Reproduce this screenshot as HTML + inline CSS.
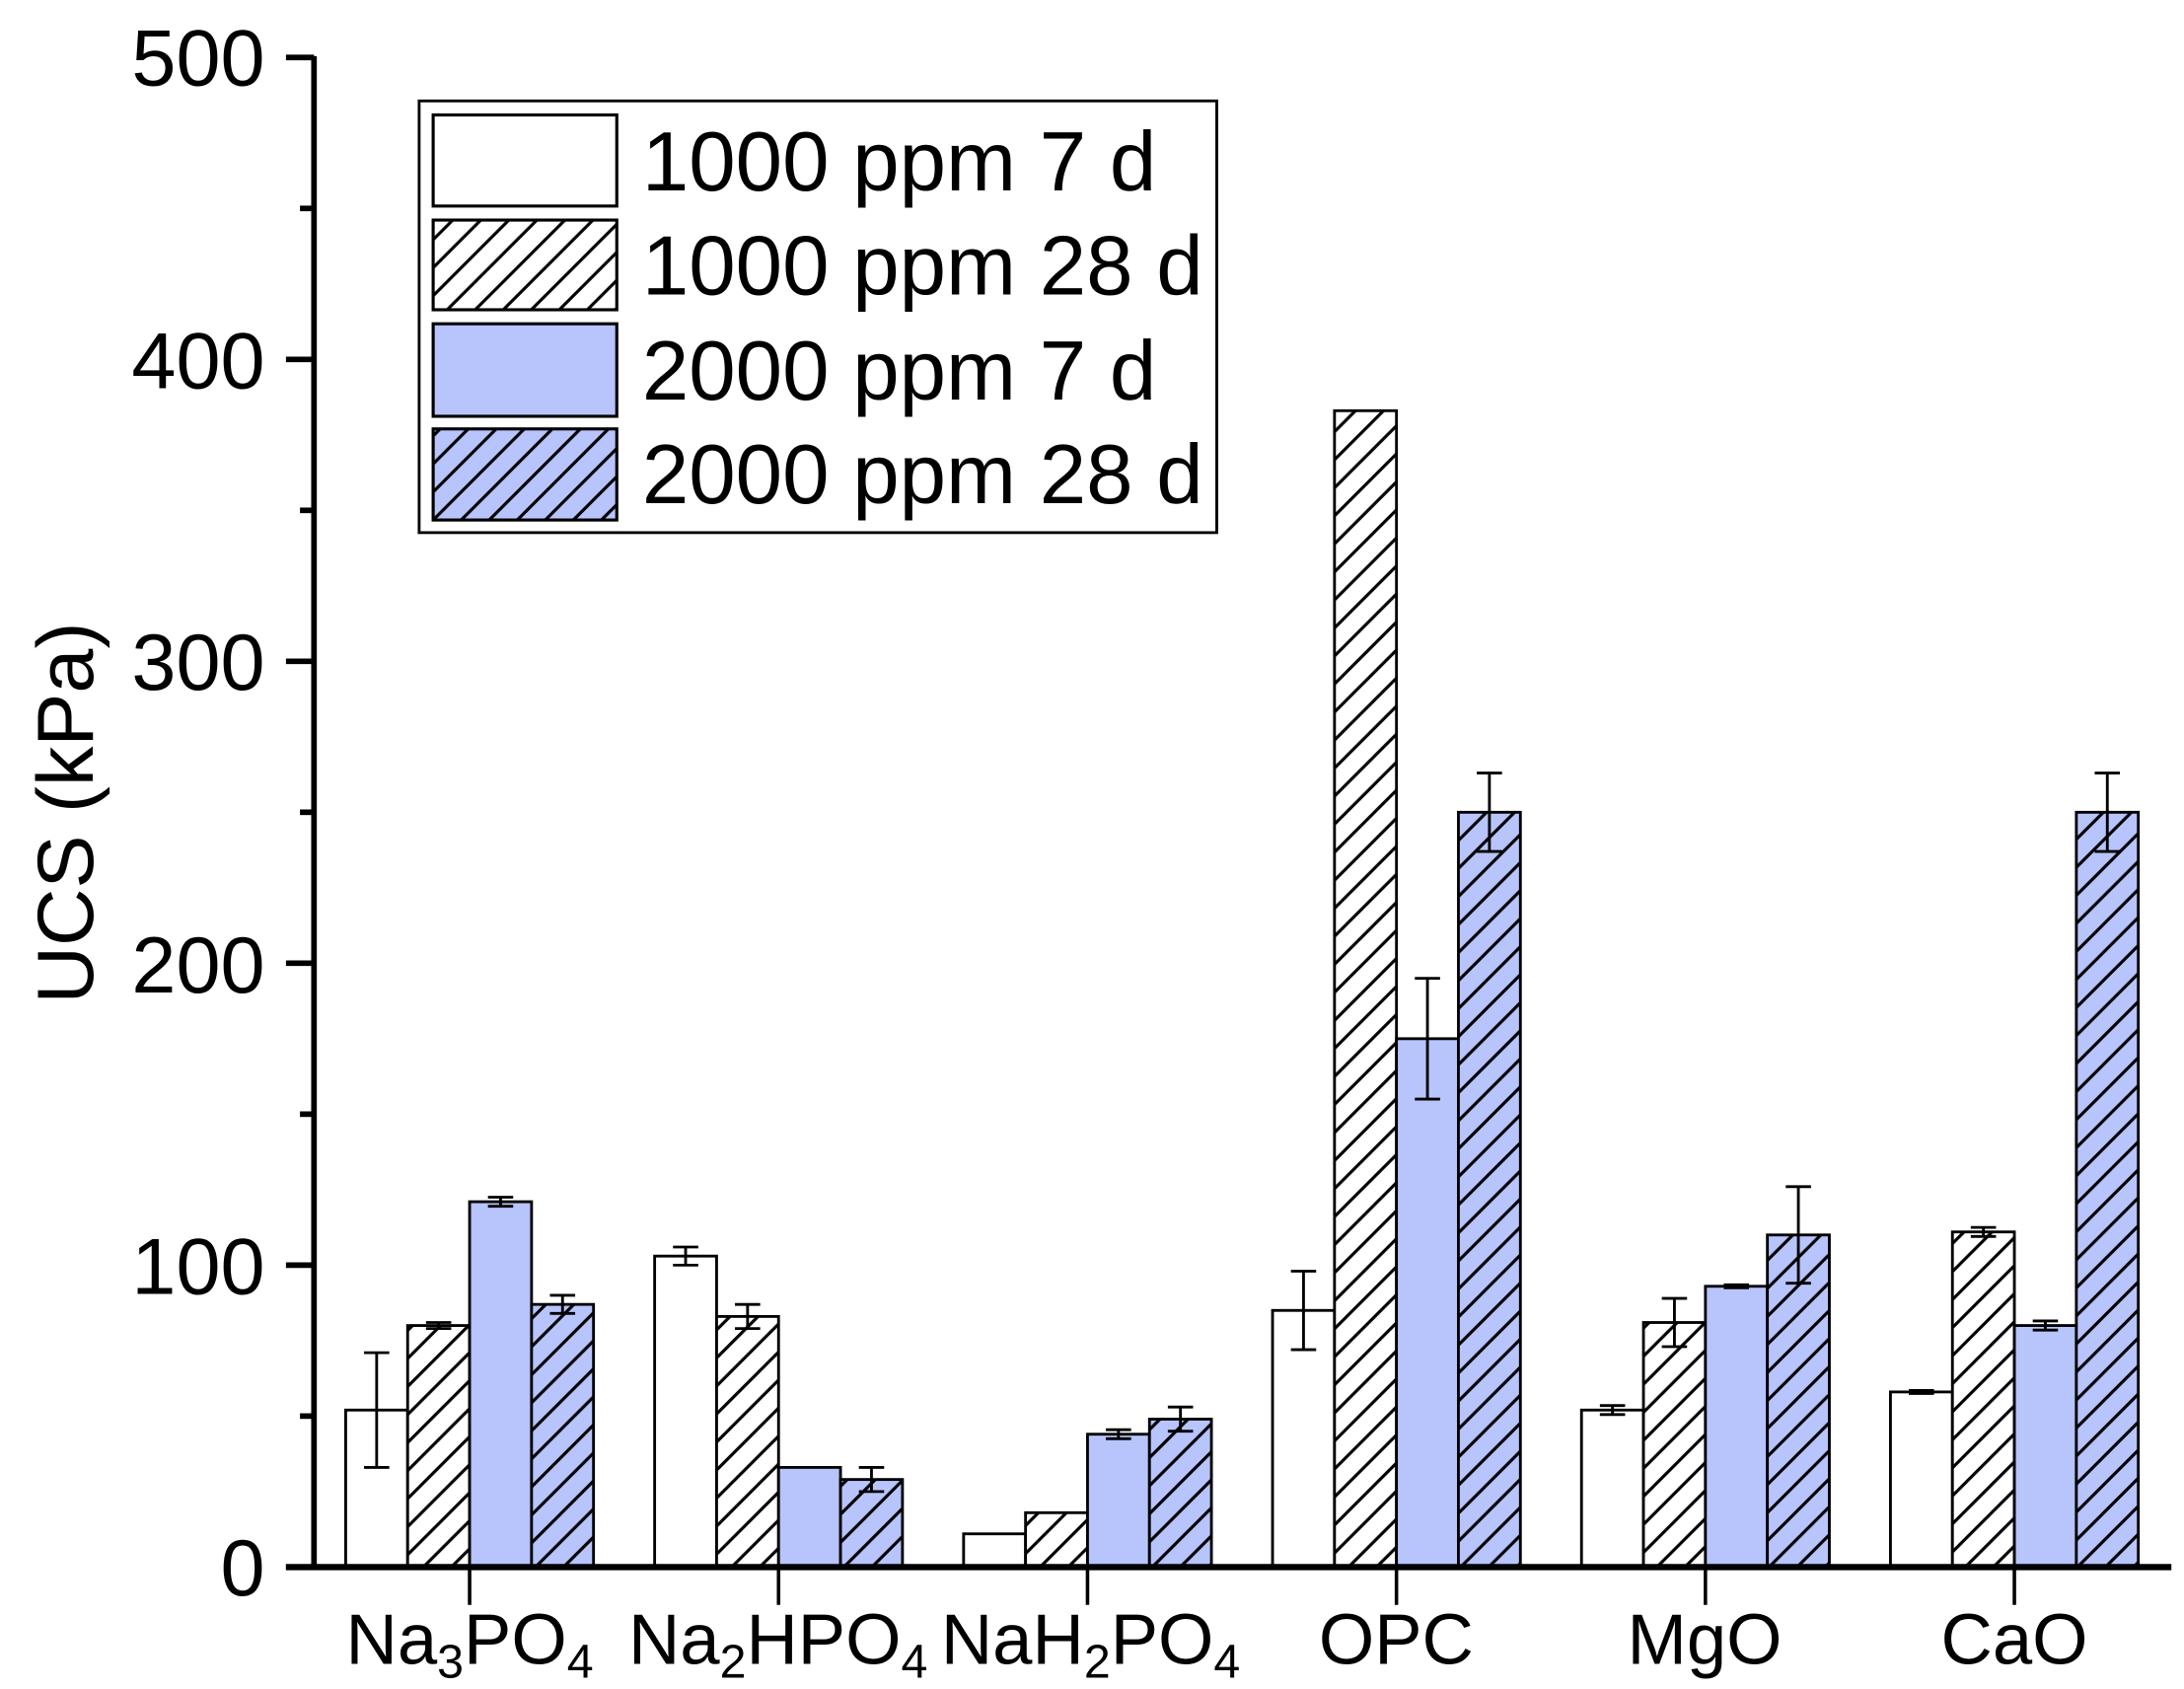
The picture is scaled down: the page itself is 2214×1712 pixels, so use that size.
<!DOCTYPE html>
<html><head><style>html,body{margin:0;padding:0;background:#fff}svg{display:block}</style></head>
<body>
<svg width="2214" height="1712" viewBox="0 0 1558 1205" preserveAspectRatio="none" xmlns="http://www.w3.org/2000/svg" font-family="Liberation Sans, Arial, sans-serif">
<defs>
<pattern id="hw" patternUnits="userSpaceOnUse" width="20" height="20">
<rect width="20" height="20" fill="#fff"/>
<path d="M-5,5 L5,-5 M0,20 L20,0 M15,25 L25,15" stroke="#000" stroke-width="2.2"/>
</pattern>
<pattern id="hb" patternUnits="userSpaceOnUse" width="20" height="20">
<rect width="20" height="20" fill="#b8c4fc"/>
<path d="M-5,5 L5,-5 M0,20 L20,0 M15,25 L25,15" stroke="#000" stroke-width="2.2"/>
</pattern>
</defs>
<rect width="1558" height="1205" fill="#fff"/>
<g id="bars" stroke="#000" stroke-width="2"></g>
<g id="axes" stroke="#000"></g>
<!-- legend -->
<rect x="299" y="72" width="569" height="308" fill="#fff" stroke="#000" stroke-width="2"/>
<rect x="309" y="82" width="131" height="65" fill="#fff" stroke="#000" stroke-width="2.2"/>
<rect x="309" y="157" width="131" height="64" fill="url(#hw)" stroke="#000" stroke-width="2.2"/>
<rect x="309" y="231" width="131" height="66" fill="#b8c4fc" stroke="#000" stroke-width="2.2"/>
<rect x="309" y="306" width="131" height="65" fill="url(#hb)" stroke="#000" stroke-width="2.2"/>
<g font-size="60" fill="#000">
<text x="458" y="136">1000 ppm 7 d</text>
<text x="458" y="210">1000 ppm 28 d</text>
<text x="458" y="285">2000 ppm 7 d</text>
<text x="458" y="359">2000 ppm 28 d</text>
</g>
<g font-size="57" text-anchor="end" fill="#000">
<text x="189" y="61">500</text>
<text x="189" y="277">400</text>
<text x="189" y="492">300</text>
<text x="189" y="708">200</text>
<text x="189" y="923">100</text>
<text x="189" y="1138">0</text>
</g>
<text transform="translate(66,580) rotate(-90)" font-size="57" text-anchor="middle">UCS (kPa)</text>
<g font-size="51" text-anchor="middle" fill="#000">
<text x="335" y="1187">Na<tspan font-size="34" dy="10">3</tspan><tspan dy="-10">PO</tspan><tspan font-size="34" dy="10">4</tspan></text>
<text x="555" y="1187">Na<tspan font-size="34" dy="10">2</tspan><tspan dy="-10">HPO</tspan><tspan font-size="34" dy="10">4</tspan></text>
<text x="778" y="1187">NaH<tspan font-size="34" dy="10">2</tspan><tspan dy="-10">PO</tspan><tspan font-size="34" dy="10">4</tspan></text>
<text x="996" y="1187">OPC</text>
<text x="1216" y="1187">MgO</text>
<text x="1437" y="1187">CaO</text>
</g>
<script>
var data=[[[52,19],[80,1],[121,1.5],[87,3]],[[103,3],[83,4],[33,0],[29,4]],[[11,0],[18,0],[44,1.5],[49,4]],[[85,13],[383,0],[175,20],[250,13]],[[52,1.5],[81,8],[93,0.5],[110,16]],[[58,0.5],[111,1.5],[80,1.5],[250,13]]];
var fills=["#fff","url(#hw)","#b8c4fc","url(#hb)"];
var ns="http://www.w3.org/2000/svg";
function y(v){return 1118-v*2.154;}
function el(t,a,p){var e=document.createElementNS(ns,t);for(var k in a)e.setAttribute(k,a[k]);p.appendChild(e);return e;}
var g=document.getElementById("bars");
for(var i=0;i<6;i++){var c=335+i*220.4;
for(var j=0;j<4;j++){var x=c-88.4+j*44.2,v=data[i][j][0],e=data[i][j][1];
el("rect",{x:x,y:y(v),width:44.2,height:1118-y(v),fill:fills[j]},g);
if(e>0){var cx=x+22.1;el("path",{d:"M"+cx+","+y(v+e)+"V"+y(v-e)+"M"+(cx-9)+","+y(v+e)+"h18M"+(cx-9)+","+y(v-e)+"h18",fill:"none","stroke-width":"2"},g);}
}}
var a=document.getElementById("axes");
el("line",{x1:224,y1:40,x2:224,y2:1120,"stroke-width":"4"},a);
el("line",{x1:204,y1:1118,x2:1549,y2:1118,"stroke-width":"4.5"},a);
for(var k=0;k<=5;k++){el("line",{x1:204,y1:y(k*100),x2:224,y2:y(k*100),"stroke-width":"4"},a);}
for(var k=0;k<5;k++){el("line",{x1:214,y1:y(k*100+50),x2:224,y2:y(k*100+50),"stroke-width":"4"},a);}
for(var i=0;i<6;i++){var c=335+i*220.4;el("line",{x1:c,y1:1118,x2:c,y2:1145,"stroke-width":"2.5"},a);}
</script>
</svg>
</body></html>
